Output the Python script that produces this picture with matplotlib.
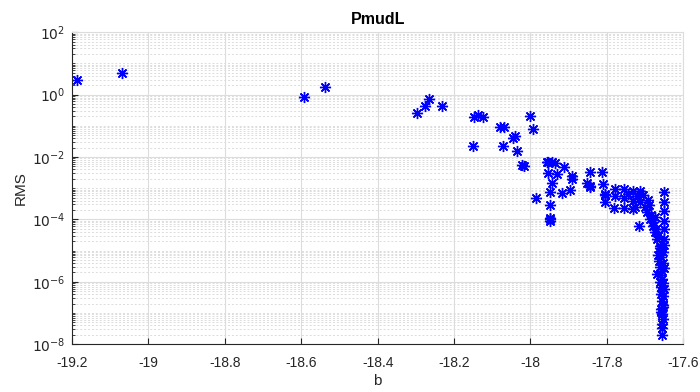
import matplotlib
matplotlib.use("Agg")
import matplotlib.pyplot as plt
import numpy as np
from matplotlib.ticker import FixedLocator, LogLocator, NullFormatter, FuncFormatter

plt.rcParams['font.family'] = ['Liberation Sans', 'DejaVu Sans']

title = "PmudL"
xlabel = "b"
ylabel = "RMS"
xticks = [-19.2, -19.0, -18.8, -18.6, -18.4, -18.2, -18.0, -17.8, -17.6]
yticks = [1e-8, 1e-6, 1e-4, 1e-2, 1e0, 1e2]

b_values = [
    -19.188, -19.070, -18.593, -18.537,
    -18.297, -18.277, -18.266, -18.231,
    -18.149, -18.136, -18.123, -18.150,
    -18.079, -18.069, -18.072, -18.046, -18.041, -18.034, -18.022, -18.016,
    -18.001, -17.994, -17.985,
    -17.957, -17.953, -17.944, -17.935, -17.912, -17.953, -17.931, -17.944,
    -17.948, -17.918, -17.950, -17.948, -17.950, -17.948,
    -17.892, -17.892, -17.896,
    -17.844, -17.813, -17.852, -17.844, -17.845, -17.809, -17.804, -17.804, -17.804,
    -17.778, -17.778, -17.780, -17.756, -17.754, -17.756,
    -17.732, -17.732, -17.732, -17.713, -17.713, -17.717,
    -17.691, -17.695, -17.687, -17.678, -17.674, -17.669, -17.660, -17.652,
    -17.650, -17.650, -17.650, -17.650, -17.650, -17.650,
    -17.700, -17.685, -17.680, -17.670, -17.665, -17.675, -17.690, -17.722,
    -17.745, -17.705, -17.725,
    -17.659, -17.662, -17.650, -17.665, -17.664, -17.650,
    -17.658, -17.654, -17.660, -17.656, -17.662, -17.668, -17.655, -17.653,
    -17.657, -17.655, -17.652, -17.656, -17.654, -17.657, -17.655, -17.653,
    -17.656, -17.655, -17.655, -17.660, -17.651, -17.658, -17.652, -17.659,
]
rms_values = [
    3.0, 5.0, 0.81, 1.8,
    0.26, 0.43, 0.72, 0.43,
    0.19, 0.22, 0.19, 0.023,
    0.091, 0.091, 0.023, 0.040, 0.046, 0.016, 0.0056, 0.0052,
    0.20, 0.076, 4.8e-4,
    0.0069, 0.0068, 0.0068, 0.0063, 0.0049, 0.0030, 0.0029, 0.0015,
    7.4e-4, 6.8e-4, 2.9e-4, 1.0e-4, 1.1e-4, 9.0e-5,
    0.0025, 0.0020, 8.7e-4,
    0.0032, 0.0032, 0.0015, 0.0012, 0.0011, 0.0014, 6.5e-4, 3.5e-4, 6.0e-4,
    9.3e-4, 5.8e-4, 2.3e-4, 9.3e-4, 5.0e-4, 2.3e-4,
    8.3e-4, 4.0e-4, 2.1e-4, 8.3e-4, 3.5e-4, 6.2e-5,
    4.3e-4, 1.7e-4, 1.0e-4, 6.2e-5, 3.8e-5, 2.3e-5, 1.4e-5, 8.7e-6,
    7.4e-4, 3.5e-4, 1.9e-4, 8.9e-5, 4.9e-5, 2.3e-5,
    2.5e-4, 1.4e-4, 8.0e-5, 5.0e-5, 3.0e-5, 1.2e-4, 2.8e-4, 5.5e-4,
    6.5e-4, 6.0e-4, 2.5e-4,
    1.0e-5, 1.2e-5, 1.5e-5, 7.0e-6, 4.5e-6, 2.8e-6,
    6.0e-6, 4.0e-6, 3.0e-6, 2.2e-6, 1.6e-6, 1.8e-6, 1.2e-6, 9.0e-7,
    7.0e-7, 5.0e-7, 3.5e-7, 2.5e-7, 1.8e-7, 1.3e-7, 9.0e-8, 6.5e-8,
    4.5e-8, 3.2e-8, 2.0e-8, 1.0e-6, 6.0e-7, 4.0e-7, 1.5e-7, 1.1e-7,
]

fig = plt.figure(figsize=(7.0, 3.92), dpi=100)
ax = fig.add_axes([0.103, 0.122, 0.873, 0.796])

ax.plot(b_values, rms_values, linestyle='none', marker=(8, 2, 0),
        markersize=8, markeredgewidth=1.0, color=(0, 0, 1))

ax.set_yscale('log')
ax.set_xlim(-19.2, -17.6)
ax.set_ylim(1e-8, 1e2)
ax.xaxis.set_major_locator(FixedLocator(xticks))
ax.set_xticklabels([f"{t:g}" for t in xticks])
ax.yaxis.set_major_locator(FixedLocator(yticks))
ax.yaxis.set_major_formatter(FuncFormatter(lambda v, p: r"$10^{%d}$" % round(np.log10(v))))
ax.yaxis.set_minor_locator(LogLocator(base=10, subs=np.arange(1, 10), numticks=100))
ax.yaxis.set_minor_formatter(NullFormatter())

ax.grid(True, which='major', color='#dcdcdc', linewidth=0.8, linestyle='-')
ax.grid(True, which='minor', axis='y', color='#dcdcdc', linewidth=0.7, linestyle=(0, (2, 2)))
ax.set_axisbelow(True)

for s in ['left', 'bottom']:
    ax.spines[s].set_color('#262626')
    ax.spines[s].set_linewidth(0.8)
for s in ['top', 'right']:
    ax.spines[s].set_color('#dcdcdc')
    ax.spines[s].set_linewidth(0.8)

ax.tick_params(which='both', direction='in', top=False, right=False,
               colors='#262626', labelsize=10, labelcolor='#262626')
ax.tick_params(which='major', length=4)
ax.tick_params(which='minor', length=2)
ax.tick_params(axis='x', which='major', pad=8.5)
ax.tick_params(axis='y', which='major', pad=5)

ax.set_title(title, fontsize=11.5, fontweight='bold', color='#000000', pad=6)
ax.set_xlabel(xlabel, fontsize=11, color='#262626', labelpad=3)
ax.set_ylabel(ylabel, fontsize=11, color='#262626', labelpad=3)

fig.savefig('out.png', dpi=100)
